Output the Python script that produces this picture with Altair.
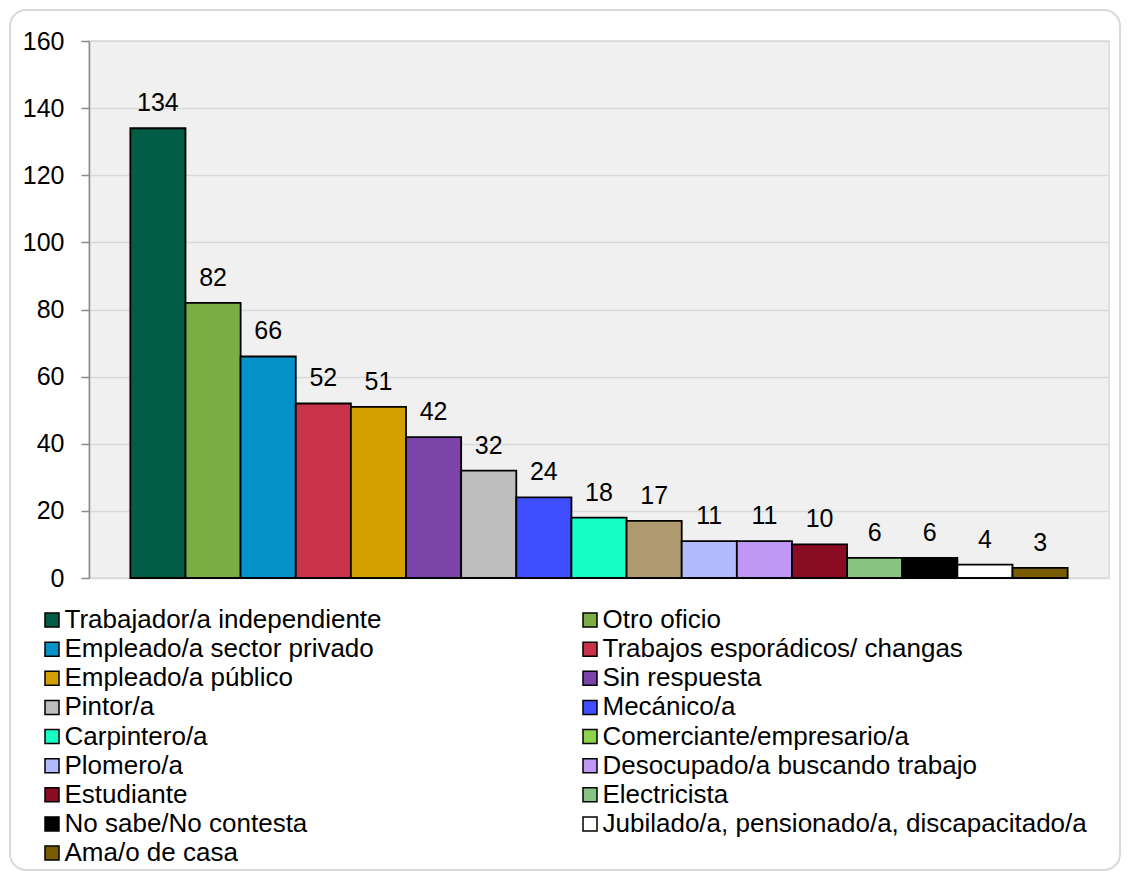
import altair as alt
import pandas as pd

categories = [
    "Trabajador/a independiente", "Otro oficio", "Empleado/a sector privado",
    "Trabajos esporádicos/ changas", "Empleado/a público", "Sin respuesta",
    "Pintor/a", "Mecánico/a", "Carpintero/a", "Comerciante/empresario/a",
    "Plomero/a", "Desocupado/a buscando trabajo", "Estudiante", "Electricista",
    "No sabe/No contesta", "Jubilado/a, pensionado/a, discapacitado/a", "Ama/o de casa",
]
values = [134, 82, 66, 52, 51, 42, 32, 24, 18, 17, 11, 11, 10, 6, 6, 4, 3]
bar_colors = [
    "#035C45", "#7AAD43", "#0592C8", "#C8334A", "#D4A000", "#7C43A8",
    "#BEBEBE", "#3F4EFF", "#15FFC6", "#B09B70", "#B3BBFF", "#C097F5",
    "#8A0C22", "#88C484", "#000000", "#FFFFFF", "#7A5C00",
]
legend_colors = [
    "#035C45", "#7AAD43", "#0592C8", "#C8334A", "#D4A000", "#7C43A8",
    "#BEBEBE", "#3F4EFF", "#15FFC6", "#8ED14B", "#B3BBFF", "#C097F5",
    "#8A0C22", "#88C484", "#000000", "#FFFFFF", "#7A5C00",
]
y_ticks = [0, 20, 40, 60, 80, 100, 120, 140, 160]

FONT = "Liberation Sans"
W, H = 1020, 537

df = pd.DataFrame({"cat": categories, "value": values})
leg = pd.DataFrame({
    "cat": categories,
    "col": [i % 2 for i in range(len(categories))],
    "row": [i // 2 for i in range(len(categories))],
})

xb = alt.X("cat:N", sort=categories, axis=None,
           scale=alt.Scale(paddingInner=0, paddingOuter=0.75))
yb = alt.Y("value:Q",
           scale=alt.Scale(domain=[0, 160], nice=False),
           axis=alt.Axis(values=y_ticks, title=None, grid=True, gridColor="#D9D9D9",
                         gridWidth=1.5, domainColor="#8C8C8C", domainWidth=1.5,
                         tickColor="#8C8C8C", tickWidth=1.5, tickSize=8,
                         labelFont=FONT, labelFontSize=25, labelColor="#000000",
                         labelPadding=17))

bars = alt.Chart(df).mark_bar(stroke="#000000", strokeWidth=1.8).encode(
    x=xb, y=yb,
    color=alt.Color("cat:N", scale=alt.Scale(domain=categories, range=bar_colors), legend=None),
)
labels = alt.Chart(df).mark_text(baseline="alphabetic", dy=-17, font=FONT,
                                 fontSize=25, color="#000000").encode(
    x=xb, y="value:Q", text="value:Q"
)
main = alt.layer(bars, labels)

lx = alt.X("col:Q", axis=None, scale=alt.Scale(domain=[0, 1], range=[-37, 501], nice=False, zero=False))
ly = alt.Y("row:Q", axis=None, scale=alt.Scale(domain=[0, 8], range=[579, 812], nice=False, zero=False))

swatches = alt.Chart(leg).mark_square(size=196, stroke="#000000", strokeWidth=1.5, opacity=1).encode(
    x=lx, y=ly,
    fill=alt.Fill("cat:N", scale=alt.Scale(domain=categories, range=legend_colors), legend=None),
)
leg_text = alt.Chart(leg).mark_text(align="left", baseline="middle", dx=12.5, font=FONT,
                                    fontSize=26, color="#000000").encode(
    x=lx, y=ly, text="cat:N"
)
legend = alt.layer(swatches, leg_text)

frame = alt.Chart(pd.DataFrame({"k": [0]})).mark_rect(
    fill=None, stroke="#D9D9D9", strokeWidth=2, cornerRadius=16
).encode(
    x=alt.value(-79), x2=alt.value(1031), y=alt.value(-31), y2=alt.value(829)
)

chart = alt.layer(frame, main, legend).resolve_scale(
    x="independent", y="independent", color="independent", fill="independent"
).properties(
    width=W, height=H,
    autosize=alt.AutoSizeParams(type="none"),
    padding={"left": 81, "top": 33, "right": 13, "bottom": 294},
    background="#FFFFFF",
).configure_view(fill="#F0F0F0", stroke="#D9D9D9", strokeWidth=1.5)

chart.save("out.html", embed_options={"renderer": "svg", "actions": False})
